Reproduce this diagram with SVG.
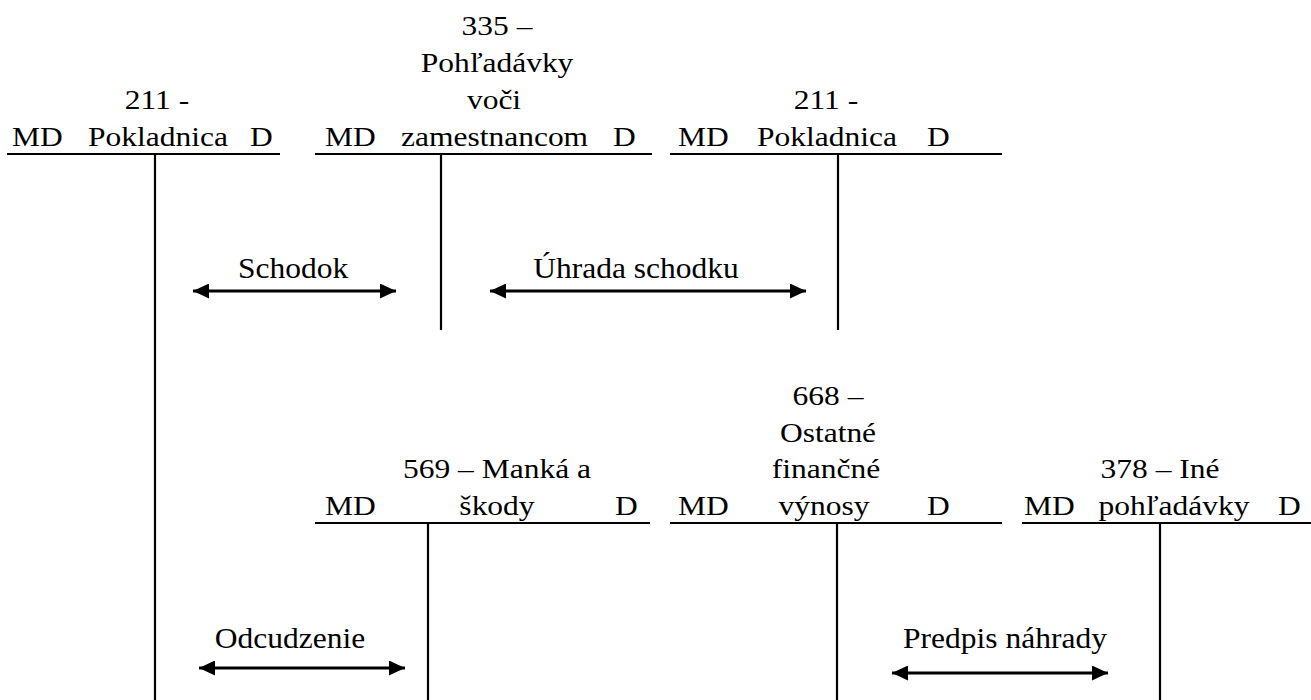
<svg xmlns="http://www.w3.org/2000/svg" width="1311" height="700" viewBox="0 0 1311 700">
<defs>
<style>
text{font-family:"Liberation Serif","Times New Roman",serif;fill:#000}
.h{font-size:31.5px}
.l{font-size:31.5px}
.ln{stroke:#000;stroke-width:2.2;fill:none}
.ar{stroke:#000;stroke-width:3;fill:none}
</style>
<marker id="ah" viewBox="0 0 16 15" markerUnits="userSpaceOnUse" markerWidth="16" markerHeight="15" refX="16" refY="7.5" orient="auto-start-reverse">
<path d="M0,0 L16,7.5 L0,15 z" fill="#000"/>
</marker>
</defs>
<rect width="1311" height="700" fill="#fff"/>

<g id="acc-211-a">
<line class="ln" x1="7" y1="154" x2="280" y2="154"/>
<line class="ln" x1="155" y1="154" x2="155" y2="700"/>
<text class="h" text-anchor="middle" transform="translate(157,109) scale(1,0.87)">211 -</text>
<text class="h" transform="translate(12,146) scale(1,0.87)">MD</text>
<text class="h" transform="translate(88,146) scale(1,0.87)">Pokladnica</text>
<text class="h" transform="translate(250,146) scale(1,0.87)">D</text>
</g>

<g id="acc-335">
<line class="ln" x1="315" y1="154" x2="652" y2="154"/>
<line class="ln" x1="441" y1="154" x2="441" y2="330"/>
<text class="h" text-anchor="middle" transform="translate(497,35) scale(1,0.87)">335 –</text>
<text class="h" text-anchor="middle" transform="translate(497,72) scale(1,0.87)">Pohľadávky</text>
<text class="h" text-anchor="middle" transform="translate(494,109) scale(1,0.87)">voči</text>
<text class="h" transform="translate(325,146) scale(1,0.87)">MD</text>
<text class="h" transform="translate(401,146) scale(1,0.87)">zamestnancom</text>
<text class="h" transform="translate(613,146) scale(1,0.87)">D</text>
</g>

<g id="acc-211-b">
<line class="ln" x1="670" y1="154" x2="1002" y2="154"/>
<line class="ln" x1="838" y1="154" x2="838" y2="330"/>
<text class="h" text-anchor="middle" transform="translate(826,109) scale(1,0.87)">211 -</text>
<text class="h" transform="translate(678,146) scale(1,0.87)">MD</text>
<text class="h" transform="translate(757,146) scale(1,0.87)">Pokladnica</text>
<text class="h" transform="translate(927,146) scale(1,0.87)">D</text>
</g>

<g id="acc-569">
<line class="ln" x1="315" y1="523" x2="650" y2="523"/>
<line class="ln" x1="428" y1="523" x2="428" y2="700"/>
<text class="h" text-anchor="middle" transform="translate(497,478) scale(1,0.87)">569 – Manká a</text>
<text class="h" transform="translate(325,515) scale(1,0.87)">MD</text>
<text class="h" text-anchor="middle" transform="translate(497,515) scale(1,0.87)">škody</text>
<text class="h" transform="translate(615,515) scale(1,0.87)">D</text>
</g>

<g id="acc-668">
<line class="ln" x1="670" y1="523" x2="1002" y2="523"/>
<line class="ln" x1="837" y1="523" x2="837" y2="700"/>
<text class="h" text-anchor="middle" transform="translate(828,405) scale(1,0.87)">668 –</text>
<text class="h" text-anchor="middle" transform="translate(828,442) scale(1,0.87)">Ostatné</text>
<text class="h" text-anchor="middle" transform="translate(826,478) scale(1,0.87)">finančné</text>
<text class="h" transform="translate(678,515) scale(1,0.87)">MD</text>
<text class="h" text-anchor="middle" transform="translate(824,515) scale(1,0.87)">výnosy</text>
<text class="h" transform="translate(927,515) scale(1,0.87)">D</text>
</g>

<g id="acc-378">
<line class="ln" x1="1022" y1="523" x2="1311" y2="523"/>
<line class="ln" x1="1160" y1="523" x2="1160" y2="700"/>
<text class="h" text-anchor="middle" transform="translate(1160,478) scale(1,0.87)">378 – Iné</text>
<text class="h" transform="translate(1024,515) scale(1,0.87)">MD</text>
<text class="h" text-anchor="middle" transform="translate(1174,515) scale(1,0.87)">pohľadávky</text>
<text class="h" transform="translate(1278,515) scale(1,0.87)">D</text>
</g>

<g id="connectors">
<line class="ar" x1="193" y1="291" x2="396" y2="291" marker-start="url(#ah)" marker-end="url(#ah)"/>
<text class="l" text-anchor="middle" transform="translate(293,278) scale(1,0.95)">Schodok</text>
<line class="ar" x1="490" y1="291" x2="806" y2="291" marker-start="url(#ah)" marker-end="url(#ah)"/>
<text class="l" text-anchor="middle" transform="translate(636,278) scale(1,0.95)">Úhrada schodku</text>
<line class="ar" x1="199" y1="668" x2="405" y2="668" marker-start="url(#ah)" marker-end="url(#ah)"/>
<text class="l" text-anchor="middle" transform="translate(290,648) scale(1,0.95)">Odcudzenie</text>
<line class="ar" x1="892" y1="673" x2="1108" y2="673" marker-start="url(#ah)" marker-end="url(#ah)"/>
<text class="l" text-anchor="middle" transform="translate(1005,648) scale(1,0.95)">Predpis náhrady</text>
</g>
</svg>
